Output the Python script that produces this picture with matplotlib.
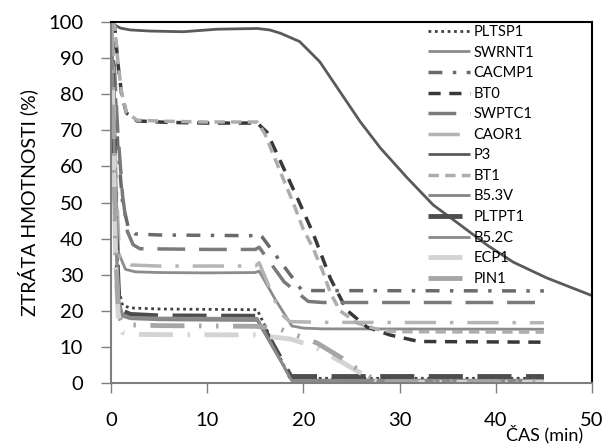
import matplotlib
matplotlib.use("Agg")
import matplotlib.pyplot as plt

plt.rcParams['font.family'] = ['Lato', 'DejaVu Sans']

# ---- data (time in min, mass loss in %) ----
pltsp1_t = [0, 0.2, 0.5, 0.8, 1.2, 2, 5, 15.2, 18.6, 45]
pltsp1_y = [100, 85, 45, 26, 21.5, 20.8, 20.5, 20.3, 1.3, 1.3]

swrnt1_t = [0, 0.2, 0.5, 0.8, 1.5, 2.5, 5, 10, 15, 15.4, 17, 18.8, 20, 22, 45]
swrnt1_y = [100, 88, 55, 36, 31.5, 30.8, 30.6, 30.5, 30.6, 31, 23.5, 15.8, 15.2, 15, 14.9]

cacmp1_t = [0, 0.3, 0.7, 1.2, 1.8, 2.5, 5, 15, 15.3, 15.7, 19.8, 21, 45]
cacmp1_y = [100, 88, 66, 50, 43, 41.3, 41, 40.8, 41.3, 40.5, 25.8, 25.6, 25.5]

bt0_t = [0, 0.4, 0.7, 1.1, 1.6, 2.7, 5.8, 10, 15.2, 16.2, 17.6, 19.5, 21, 22.8, 24.5, 26.6, 29, 32, 45]
bt0_y = [100, 98.6, 89, 80, 74.8, 72.6, 72.2, 72, 72, 69.5, 61.5, 50.5, 41.5, 29, 20.2, 15.5, 13.3, 11.5, 11.3]

swptc1_t = [0, 0.3, 0.7, 1.2, 1.7, 2.3, 3, 10, 15, 15.4, 18, 20.5, 22, 45]
swptc1_y = [100, 90, 70, 52, 42, 38.3, 37.2, 37, 37, 37.6, 28, 22.6, 22.3, 22.3]

caor1_t = [0, 0.2, 0.5, 0.9, 2, 5, 10, 15, 15.4, 17.6, 18.6, 22, 45]
caor1_y = [100, 89, 58, 34, 32.7, 32.4, 32.4, 32.4, 33.3, 19.3, 17, 16.8, 16.7]

p3_t = [0, 0.5, 1, 2, 4, 7.5, 11, 15.2, 16.5, 17.6, 19.6, 21.7, 23.8, 25.9, 28, 30.8,
        33.5, 36.3, 39.1, 41.8, 45.3, 50]
p3_y = [100, 99, 98.3, 97.8, 97.5, 97.3, 98, 98.2, 97.8, 96.9, 94.6, 89, 80.7, 72.4, 65.1, 56.8,
        49.3, 43.8, 38.2, 33.5, 29.1, 24.2]

bt1_t = [0, 0.4, 0.7, 1.1, 1.6, 2.7, 5.8, 10, 15.2, 16, 17.6, 18.9, 20, 21, 22, 22.8, 23.8, 25.6, 28, 30, 45]
bt1_y = [100, 98.8, 89.5, 80.5, 75, 72.8, 72.5, 72.3, 72.3, 69, 58.5, 50.2, 42.5, 37.4, 31, 25, 20, 16.6, 14.6, 14.2, 14.1]

b53v_t = [0, 0.2, 0.5, 0.8, 1.2, 2, 5, 15.2, 18.8, 45]
b53v_y = [100, 82, 40, 22, 18.5, 17.8, 17.5, 17.3, 0.8, 0.8]

pltpt1_t = [0, 0.2, 0.5, 0.8, 1.2, 2, 5, 15.2, 18.7, 45]
pltpt1_y = [100, 83, 42, 24, 20, 19, 18.6, 18.5, 1.8, 1.8]

b52c_t = [0, 0.2, 0.5, 0.8, 1.2, 2, 5, 15.2, 18.8, 45]
b52c_y = [100, 84, 41, 23, 19, 18.2, 18, 17.9, 0.6, 0.6]

ecp1_t = [0, 0.2, 0.5, 0.8, 1.2, 2, 5, 15, 18.6, 20, 21.4, 24, 25.2, 26.6, 27.6, 28.5, 45]
ecp1_y = [100, 78, 32, 16, 14, 13.5, 13.4, 13.3, 12.2, 11.1, 9.7, 5.8, 3.9, 1.8, 0.4, 0.2, 0.2]

pin1_t = [0, 0.2, 0.5, 0.8, 1.2, 2, 5, 15, 17.3, 20, 21.4, 24, 25.2, 26.6, 27.6, 28.5, 45]
pin1_y = [100, 80, 35, 18.5, 16.5, 16.1, 15.9, 15.7, 15.2, 12.5, 11.1, 6.9, 4.6, 2.2, 0.6, 0.3, 0.3]

x_ticks = [0, 10, 20, 30, 40, 50]
y_ticks = [0, 10, 20, 30, 40, 50, 60, 70, 80, 90, 100]

series = [
    ("PLTSP1", pltsp1_t, pltsp1_y, dict(color='#404040', lw=2.0, ls=(0, (1, 1.3)))),
    ("SWRNT1", swrnt1_t, swrnt1_y, dict(color='#8c8c8c', lw=2.0, ls='-')),
    ("CACMP1", cacmp1_t, cacmp1_y, dict(color='#6a6a6a', lw=2.5, ls=(0, (4, 3, 1, 3)))),
    ("BT0", bt0_t, bt0_y, dict(color='#383838', lw=2.5, ls=(0, (3.5, 2.5)))),
    ("SWPTC1", swptc1_t, swptc1_y, dict(color='#7a7a7a', lw=2.5, ls=(0, (8, 4)))),
    ("CAOR1", caor1_t, caor1_y, dict(color='#b4b4b4', lw=2.5, ls=(0, (9, 4, 1, 4)))),
    ("P3", p3_t, p3_y, dict(color='#5a5a5a', lw=2.0, ls='-')),
    ("BT1", bt1_t, bt1_y, dict(color='#adadad', lw=2.5, ls=(0, (3, 1.8)))),
    ("B5.3V", b53v_t, b53v_y, dict(color='#858585', lw=2.0, ls='-')),
    ("PLTPT1", pltpt1_t, pltpt1_y, dict(color='#4d4d4d', lw=3.5, ls=(0, (7, 3)))),
    ("B5.2C", b52c_t, b52c_y, dict(color='#8a8a8a', lw=2.0, ls='-')),
    ("ECP1", ecp1_t, ecp1_y, dict(color='#d4d4d4', lw=3.5, ls=(0, (7, 3, 0.5, 3)))),
    ("PIN1", pin1_t, pin1_y, dict(color='#a6a6a6', lw=3.5, ls=(0, (7, 3, 0.5, 3, 0.5, 3)))),
]

fig = plt.figure(figsize=(6.08, 4.46), dpi=100)
ax = fig.add_axes([111 / 608, 1 - 383 / 446, 481 / 608, 361 / 446])

for name, t, y, st in series:
    ax.plot(t, y, label=name, solid_capstyle='butt', dash_capstyle='butt', **st)

ax.set_xlim(0, 50)
ax.set_ylim(0, 100)
ax.set_xticks(x_ticks)
ax.set_yticks(y_ticks)
ax.tick_params(axis='both', direction='out', length=7, width=1, color='#7f7f7f',
               labelsize=14.5, labelcolor='#000000')
ax.tick_params(axis='x', pad=14)
ax.tick_params(axis='y', pad=13)

for s in ['top', 'right']:
    ax.spines[s].set_color('#000000')
    ax.spines[s].set_linewidth(1.5)
for s in ['left', 'bottom']:
    ax.spines[s].set_color('#7f7f7f')
    ax.spines[s].set_linewidth(1.5)

ax.set_ylabel('ZTRÁTA HMOTNOSTI (%)', fontsize=14, va='center')
ax.yaxis.set_label_coords((28 - 111) / 481, 0.5)
ax.set_xlabel('ČAS (min)', fontsize=13, va='top')
ax.xaxis.set_label_coords((545 - 111) / 481, (383 - 425) / 361)

leg = ax.legend(loc='upper left', bbox_to_anchor=((428 - 111) / 481, (383 - 25) / 361),
                frameon=False, fontsize=10.5, handlelength=2.9, handletextpad=0.2,
                labelspacing=0.45, borderpad=0, borderaxespad=0)

fig.savefig('out.png', dpi=100)
